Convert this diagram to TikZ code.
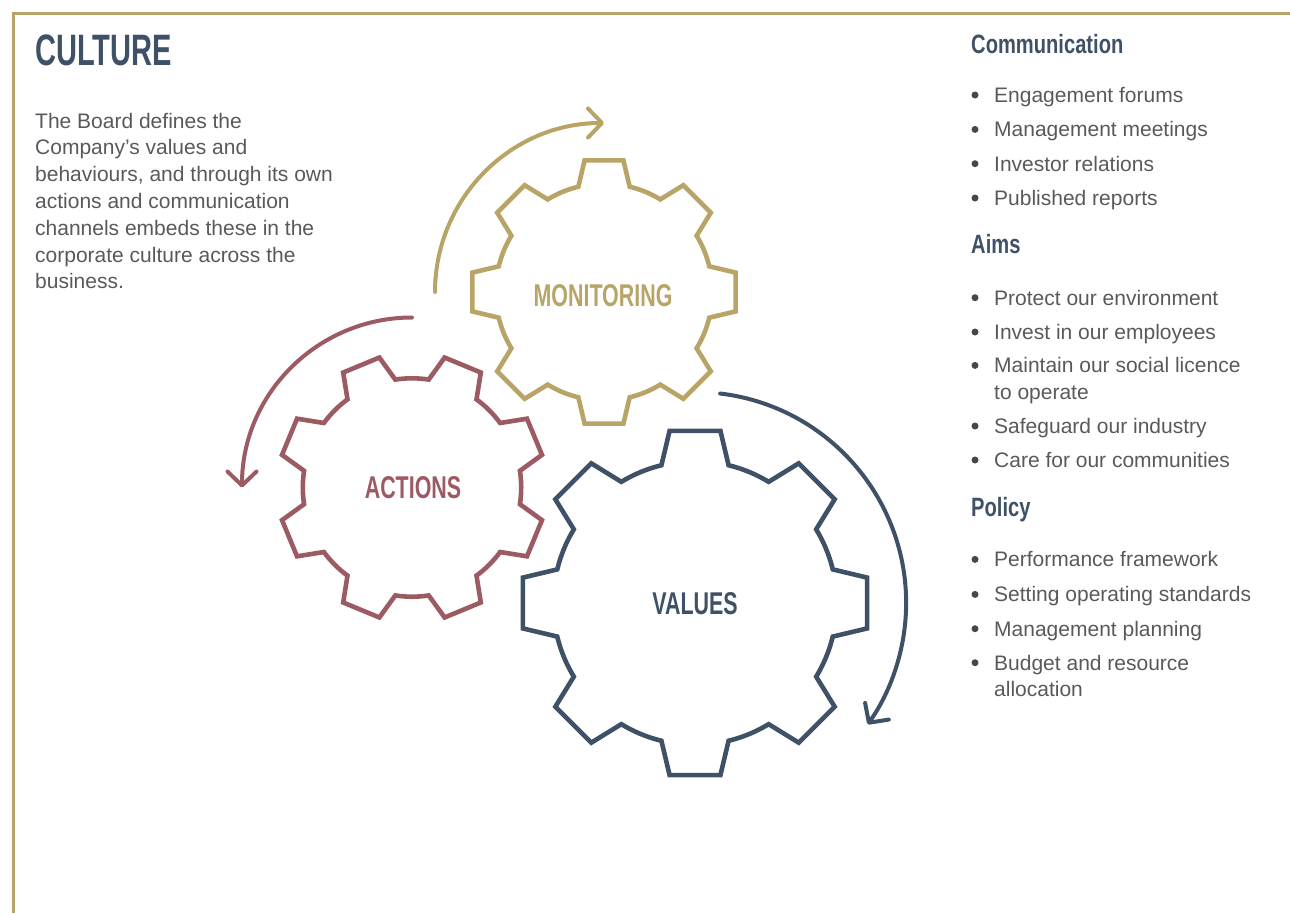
\documentclass[tikz,border=0pt]{standalone}
\usepackage{fontspec}
\setmainfont{Liberation Sans}
\newfontfamily\titlefont[FakeStretch=0.66]{Liberation Sans}
\newfontfamily\gearfont[FakeStretch=0.68]{Liberation Sans}
\newfontfamily\headfont[FakeStretch=0.76]{Liberation Sans}
\usetikzlibrary{arrows.meta}

\definecolor{gold}{HTML}{B8A466}
\definecolor{navy}{HTML}{3F5166}
\definecolor{mauve}{HTML}{9C5A63}
\definecolor{bodygray}{HTML}{595959}

\tikzset{
  frame/.style={draw=gold, line width=3pt},
  cogline/.style={line width=4.6pt, line join=miter},
  turn/.style={line width=4pt, line cap=round,
    -{Straight Barb[length=14pt, width=29pt, round]}},
  title/.style={anchor=base west, inner sep=0pt, text=navy,
    font=\titlefont\bfseries\fontsize{44}{48}\selectfont},
  body/.style={anchor=base west, inner sep=0pt, text=bodygray,
    font=\fontsize{21}{26}\selectfont},
  bulletmark/.style={circle, fill=bodygray!80!black, inner sep=0pt,
    minimum size=7pt},
  heading/.style={anchor=base west, inner sep=0pt, text=navy,
    font=\headfont\bfseries\fontsize{26.5}{30}\selectfont},
  cogname/.style={anchor=base, inner sep=0pt,
    font=\gearfont\bfseries\fontsize{31.5}{34}\selectfont},
}

% eight-tooth cog: centre x, centre y, outer radius, rotation, colour
\newcommand{\cogwheel}[5]{%
  \begin{scope}[shift={(#1,#2)}]
    \pgfmathsetmacro\rootr{0.815*#3}
    \draw[cogline, #5] ({#4-13.7}:\rootr)
      \foreach \k in {0,...,7}{
        -- ({#4+45*\k-8.4}:#3) -- ({#4+45*\k+8.4}:#3)
        -- ({#4+45*\k+13.7}:\rootr)
        arc[start angle={#4+45*\k+13.7}, delta angle=17.6, radius=\rootr]
      } -- cycle;
  \end{scope}}

% bulleted list entry: name, baseline, text
\newcommand{\listentry}[3]{%
  \node[bulletmark] (#1-dot) at (975,#2-7.3) {};
  \node[body] (#1) at (994,#2) {#3};}

\begin{document}
\begin{tikzpicture}[x=1pt, y=-1pt]
  \useasboundingbox (0,0) rectangle (1290,913);

  % frame lines along the top and the left edge
  \draw[frame] (13,913) -- (13,13) -- (1290,13);

  % title and introduction
  \node[title] (culture) at (35,65) {CULTURE};
  \node[body] (intro1) at (35,128.0) {The Board defines the};
  \node[body] (intro2) at (35,154.8) {Company’s values and};
  \node[body] (intro3) at (35,181.6) {behaviours, and through its own};
  \node[body] (intro4) at (35,208.4) {actions and communication};
  \node[body] (intro5) at (35,235.2) {channels embeds these in the};
  \node[body] (intro6) at (35,262.0) {corporate culture across the};
  \node[body] (intro7) at (35,288.8) {business.};

  % cogs
  \cogwheel{604}{292}{133}{0}{gold}
  \cogwheel{412}{487.5}{134}{22.5}{mauve}
  \cogwheel{695}{603}{174}{0}{navy}

  \node[cogname, text=gold]  (monitoring) at (603,306) {MONITORING};
  \node[cogname, text=mauve] (actions)    at (413,498) {ACTIONS};
  \node[cogname, text=navy]  (values)     at (695,614) {VALUES};

  % turning arrows round the cogs
  \coordinate (goldstart)  at (435,292);
  \coordinate (mauvestart) at (412,317.5);
  \coordinate (navystart)  at (720.1,393.5);
  \draw[turn, gold]  (goldstart)  arc[start angle=180, end angle=270, radius=169];
  \draw[turn, mauve] (mauvestart) arc[start angle=-90, end angle=-180, radius=170];
  \draw[turn, navy]  (navystart)  arc[start angle=-83.2, end angle=35.1, radius=211];

  % right-hand column
  \node[heading] (communication) at (971,53.3) {Communication};
  \listentry{forums}{102.3}{Engagement forums}
  \listentry{meetings}{136.7}{Management meetings}
  \listentry{investor}{171.0}{Investor relations}
  \listentry{reports}{205.3}{Published reports}

  \node[heading] (aims) at (971,253.3) {Aims};
  \listentry{environment}{305.0}{Protect our environment}
  \listentry{employees}{339.3}{Invest in our employees}
  \listentry{licence}{372.7}{Maintain our social licence}
  \node[body] (licence2) at (994,399.3) {to operate};
  \listentry{industry}{433.3}{Safeguard our industry}
  \listentry{communities}{467.3}{Care for our communities}

  \node[heading] (policy) at (971,516.7) {Policy};
  \listentry{framework}{566.7}{Performance framework}
  \listentry{standards}{601.7}{Setting operating standards}
  \listentry{planning}{636.0}{Management planning}
  \listentry{budget}{670.0}{Budget and resource}
  \node[body] (budget2) at (994,696.0) {allocation};
\end{tikzpicture}
\end{document}
